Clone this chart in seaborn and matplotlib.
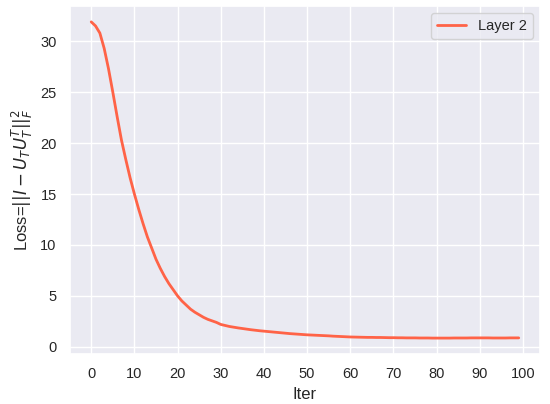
import numpy as np
import pandas as pd
import matplotlib
matplotlib.use("Agg")
import matplotlib.pyplot as plt
import seaborn as sns

iters = list(range(100))
loss_layer2 = [
    31.9, 31.5, 30.8, 29.3, 27.3, 25.0, 22.6, 20.3, 18.4, 16.6,
    15.0, 13.5, 12.1, 10.8, 9.7, 8.6, 7.7, 6.9, 6.2, 5.6,
    5.0, 4.5, 4.1, 3.7, 3.4, 3.15, 2.9, 2.7, 2.55, 2.4,
    2.2, 2.1, 2.0, 1.93, 1.86, 1.8, 1.74, 1.68, 1.63, 1.58,
    1.54, 1.5, 1.46, 1.42, 1.38, 1.34, 1.3, 1.27, 1.24, 1.21,
    1.18, 1.16, 1.14, 1.12, 1.1, 1.08, 1.05, 1.03, 1.01, 0.99,
    0.97, 0.96, 0.95, 0.94, 0.93, 0.93, 0.92, 0.92, 0.91, 0.9,
    0.9, 0.89, 0.89, 0.88, 0.88, 0.88, 0.87, 0.87, 0.87, 0.86,
    0.86, 0.86, 0.86, 0.86, 0.87, 0.87, 0.87, 0.87, 0.88, 0.88,
    0.88, 0.88, 0.88, 0.87, 0.87, 0.87, 0.87, 0.88, 0.88, 0.88,
]

df = pd.DataFrame({"Iter": iters, "Loss": loss_layer2})

sns.set_theme(style="darkgrid")
plt.rcParams["font.family"] = ["Liberation Sans", "DejaVu Sans"]
plt.rcParams["xtick.labelsize"] = 10.5
plt.rcParams["ytick.labelsize"] = 10.5
plt.rcParams["axes.labelsize"] = 12
plt.rcParams["legend.fontsize"] = 10.5

fig, ax = plt.subplots(figsize=(5.5, 4.04), dpi=100)
sns.lineplot(data=df, x="Iter", y="Loss", color="tomato", linewidth=2, label="Layer 2", ax=ax)
ax.set_xticks(range(0, 101, 10))
ax.set_xlabel("Iter")
ax.set_ylabel(r"Loss=$||I - U_T U_T^T||_F^2$")
ax.legend(loc="upper right")
fig.subplots_adjust(left=0.127, right=0.982, top=0.985, bottom=0.124)
plt.savefig("out.png")
